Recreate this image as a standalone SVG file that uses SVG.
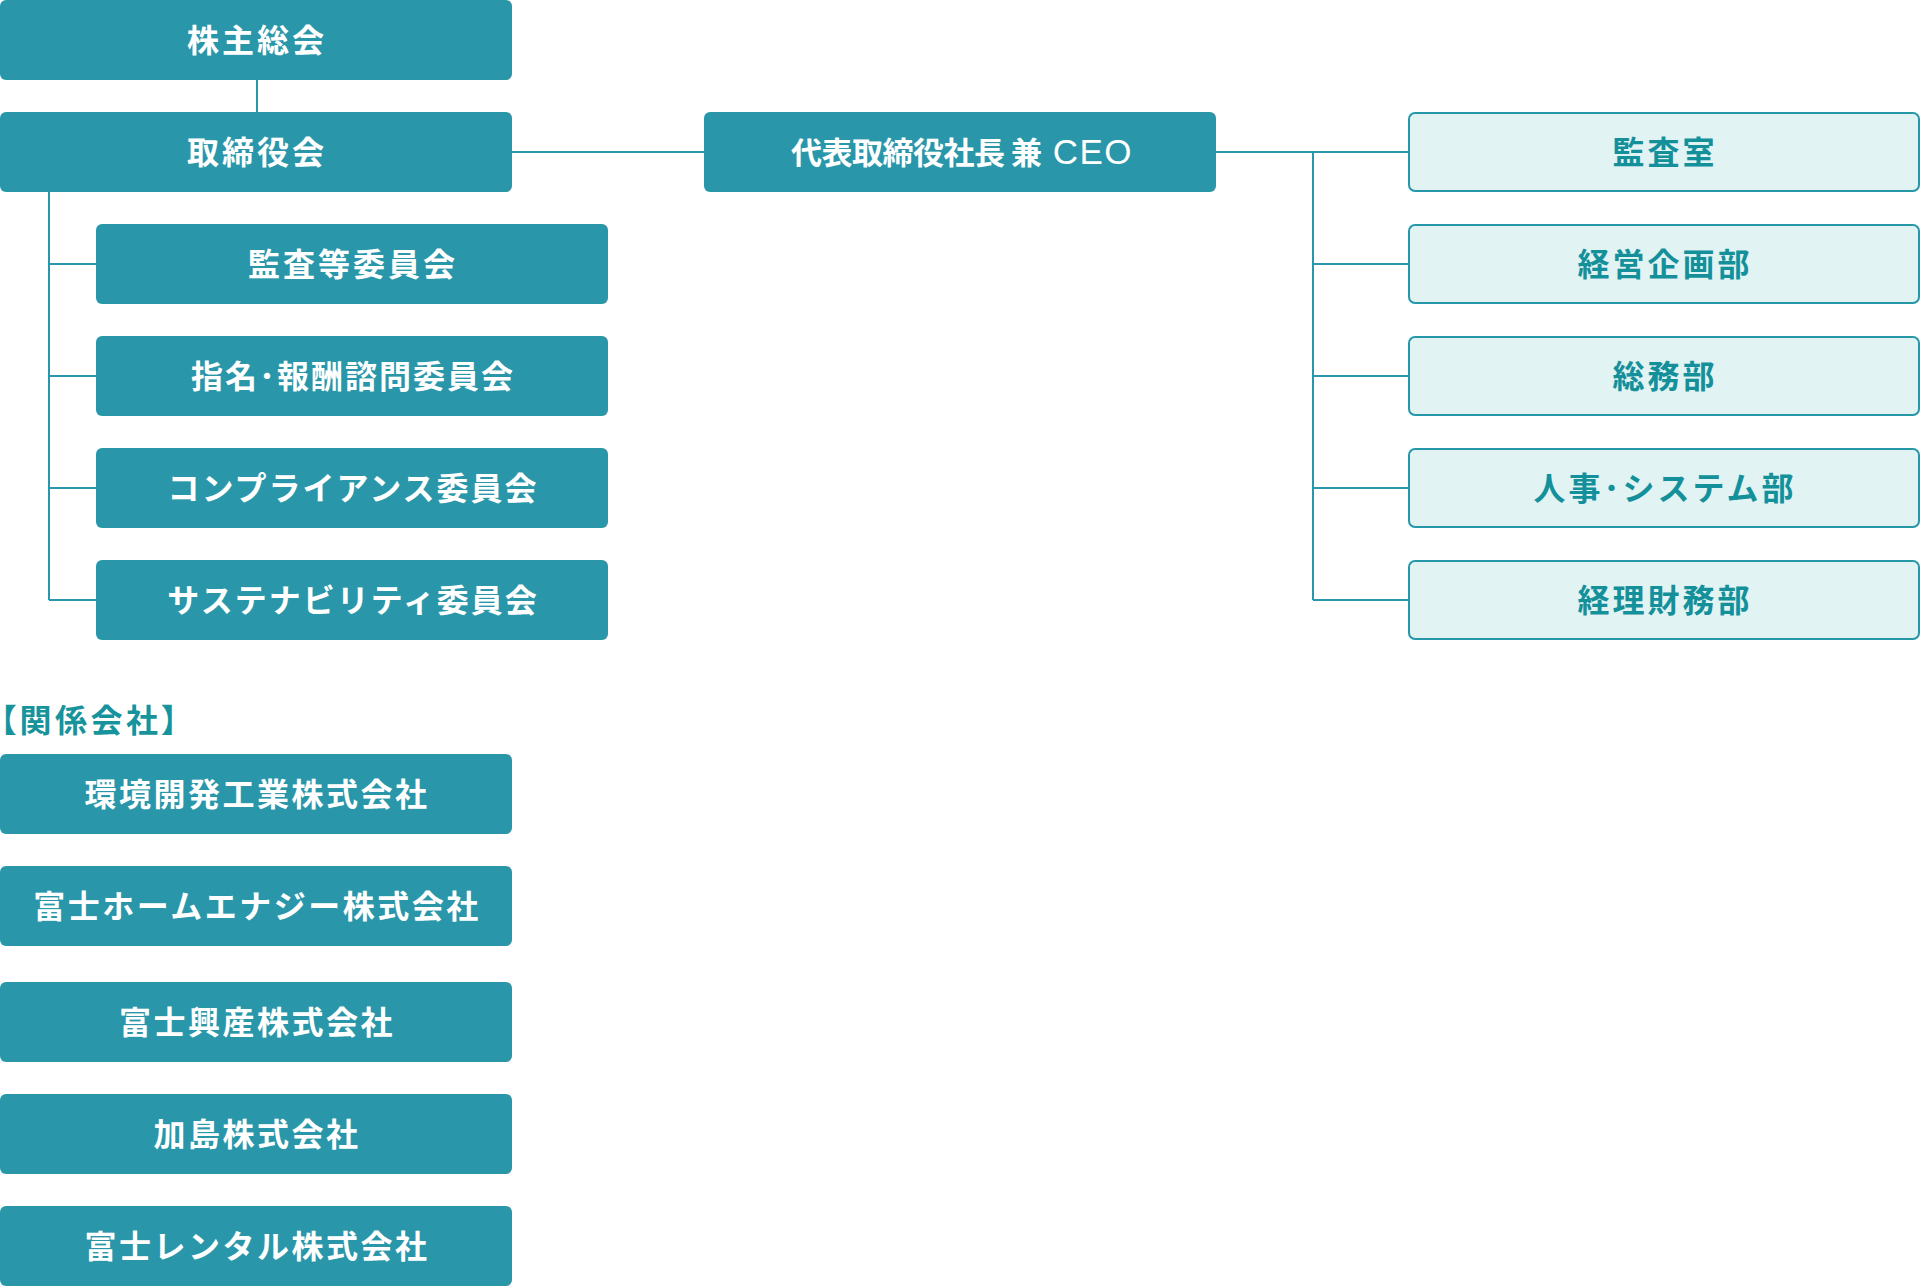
<svg xmlns="http://www.w3.org/2000/svg" width="1920" height="1286" viewBox="0 0 1920 1286">
<style>
.dk{fill:#2997a9}
.lt{fill:#e1f3f3;stroke:#2697a8;stroke-width:2}
.t{font-family:"Noto Sans CJK JP","Noto Sans",sans-serif;font-size:32px;font-weight:600;text-anchor:middle;letter-spacing:3px}
.tw{fill:#ffffff}
.tl{fill:#14909b}
.c{fill:none;stroke:#2997a9;stroke-width:2}
</style>
<rect width="1920" height="1286" fill="#ffffff"/>
<g id="connectors">
<path class="c" d="M257 80V112"/>
<path class="c" d="M49 192V600M49 264H96M49 376H96M49 488H96M49 600H96"/>
<path class="c" d="M512 152H704"/>
<path class="c" d="M1216 152H1408M1313 152V600M1313 264H1408M1313 376H1408M1313 488H1408M1313 600H1408"/>
</g>
<g id="n-shareholders"><rect class="dk" x="0" y="0" width="512" height="80" rx="6"/><text class="t tw" x="257" y="52">株主総会</text></g>
<g id="n-board"><rect class="dk" x="0" y="112" width="512" height="80" rx="6"/><text class="t tw" x="257" y="164">取締役会</text></g>
<g id="n-audit-committee"><rect class="dk" x="96" y="224" width="512" height="80" rx="6"/><text class="t tw" x="353" y="276">監査等委員会</text></g>
<g id="n-nomination"><rect class="dk" x="96" y="336" width="512" height="80" rx="6"/><text class="t tw" x="353" y="388" style="letter-spacing:2px">指名･報酬諮問委員会</text></g>
<g id="n-compliance"><rect class="dk" x="96" y="448" width="512" height="80" rx="6"/><text class="t tw" x="353" y="500" style="letter-spacing:2px">コンプライアンス委員会</text></g>
<g id="n-sustainability"><rect class="dk" x="96" y="560" width="512" height="80" rx="6"/><text class="t tw" x="353" y="612" style="letter-spacing:2px">サステナビリティ委員会</text></g>
<g id="n-ceo"><rect class="dk" x="704" y="112" width="512" height="80" rx="6"/><text class="t tw" x="962" y="164" style="font-size:31px;letter-spacing:-0.5px">代表取締役社長 兼<tspan style="font-family:'Liberation Sans',sans-serif;font-size:35px;font-weight:400;letter-spacing:1.5px"> CEO</tspan></text></g>
<g id="n-audit-office"><rect class="lt" x="1409" y="113" width="510" height="78" rx="6"/><text class="t tl" x="1665" y="164">監査室</text></g>
<g id="n-planning"><rect class="lt" x="1409" y="225" width="510" height="78" rx="6"/><text class="t tl" x="1665" y="276">経営企画部</text></g>
<g id="n-general"><rect class="lt" x="1409" y="337" width="510" height="78" rx="6"/><text class="t tl" x="1665" y="388">総務部</text></g>
<g id="n-hr"><rect class="lt" x="1409" y="449" width="510" height="78" rx="6"/><text class="t tl" x="1665" y="500">人事･システム部</text></g>
<g id="n-finance"><rect class="lt" x="1409" y="561" width="510" height="78" rx="6"/><text class="t tl" x="1665" y="612">経理財務部</text></g>
<text id="label-affiliates" x="0" y="732" style="font-family:'Noto Sans CJK JP','Noto Sans',sans-serif;font-size:32px;font-weight:700;letter-spacing:3.5px;fill:#17939c;font-feature-settings:'palt'">【関係会社】</text>
<g id="n-kankyo"><rect class="dk" x="0" y="754" width="512" height="80" rx="6"/><text class="t tw" x="257" y="806" style="letter-spacing:2.5px">環境開発工業株式会社</text></g>
<g id="n-fujihome"><rect class="dk" x="0" y="866" width="512" height="80" rx="6"/><text class="t tw" x="257" y="918" style="letter-spacing:2.5px">富士ホームエナジー株式会社</text></g>
<g id="n-fujikosan"><rect class="dk" x="0" y="982" width="512" height="80" rx="6"/><text class="t tw" x="257" y="1034" style="letter-spacing:2.5px">富士興産株式会社</text></g>
<g id="n-kashima"><rect class="dk" x="0" y="1094" width="512" height="80" rx="6"/><text class="t tw" x="257" y="1146" style="letter-spacing:2.5px">加島株式会社</text></g>
<g id="n-fujirental"><rect class="dk" x="0" y="1206" width="512" height="80" rx="6"/><text class="t tw" x="257" y="1258" style="letter-spacing:2.5px">富士レンタル株式会社</text></g>
</svg>
